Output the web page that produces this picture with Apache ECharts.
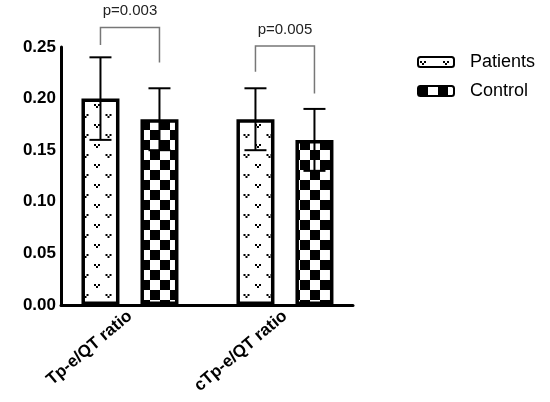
<!DOCTYPE html>
<html>
<head>
<meta charset="utf-8">
<script src="https://cdn.jsdelivr.net/npm/echarts@6/dist/echarts.min.js"></script>
<style>
html, body { margin: 0; padding: 0; background: #fff; }
#main { width: 550px; height: 402px; }
</style>
</head>
<body>
<div id="main"></div>
<script>
// data
var categories = ['Tp-e/QT ratio', 'cTp-e/QT ratio']
var groupPos = [0, 1]
var patientsMean = [0.20, 0.18]
var patientsSD = [0.04, 0.03]
var controlMean = [0.18, 0.16]
var controlSD = [0.03, 0.03]
var pLabels = ['p=0.003', 'p=0.005']
var bracketTop = [0.269, 0.251]
var bracketLeftEnd = [0.252, 0.226]
var bracketRightEnd = [0.235, 0.205]

var FONT = 'Arial, "Liberation Sans", Helvetica, sans-serif'
var barW = 38
var barGapPx = 21
var half = (barW + barGapPx) / 2

// fill patterns
function dotsPattern() {
    var c = document.createElement('canvas')
    c.width = 23
    c.height = 20
    var ctx = c.getContext('2d')
    ctx.fillStyle = '#fff'
    ctx.fillRect(0, 0, 23, 20)
    ctx.fillStyle = '#000'
    function vmark(x, y) {
        ctx.fillRect(x, y, 2, 2)
        ctx.fillRect(x + 4, y, 2, 2)
        ctx.fillRect(x + 2, y + 2, 2, 2)
    }
    vmark(2, 4)
    vmark(13.5, 14)
    return c
}
function checkerPattern() {
    var c = document.createElement('canvas')
    c.width = 20
    c.height = 20
    var ctx = c.getContext('2d')
    ctx.fillStyle = '#fff'
    ctx.fillRect(0, 0, 20, 20)
    ctx.fillStyle = '#000'
    ctx.fillRect(0, 0, 10, 10)
    ctx.fillRect(10, 10, 10, 10)
    return c
}

function pairs(xs, ys) {
    return xs.map(function (x, i) { return [x, ys[i]] })
}
function errData(xs, m, sd) {
    return xs.map(function (x, i) { return [x, m[i], sd[i]] })
}

function errorBar(side) {
    return function (params, api) {
        var x = api.value(0)
        var m = api.value(1)
        var s = api.value(2)
        var hi = api.coord([x, m + s])
        var lo = api.coord([x, m - s])
        var cx = hi[0] + side * half
        var cap = 11
        var st = { stroke: '#000', lineWidth: 2 }
        return {
            type: 'group',
            children: [
                { type: 'line', shape: { x1: cx, y1: hi[1], x2: cx, y2: lo[1] }, style: st },
                { type: 'line', shape: { x1: cx - cap, y1: hi[1], x2: cx + cap, y2: hi[1] }, style: st },
                { type: 'line', shape: { x1: cx - cap, y1: lo[1], x2: cx + cap, y2: lo[1] }, style: st }
            ]
        }
    }
}

var bracketData = groupPos.map(function (x, i) {
    return [x, bracketTop[i], bracketLeftEnd[i], bracketRightEnd[i], i]
})

var chart = echarts.init(document.getElementById('main'))
chart.setOption({
    animation: false,
    backgroundColor: '#fff',
    textStyle: { fontFamily: FONT },
    grid: { left: 61, right: 197, top: 47, bottom: 97 },
    legend: {
        orient: 'vertical',
        left: 417,
        top: 53,
        padding: 0,
        itemWidth: 36,
        itemHeight: 10,
        itemGap: 11,
        data: ['Patients', 'Control'],
        textStyle: { fontSize: 18, color: '#000', fontFamily: FONT, padding: [0, 0, 0, 11] }
    },
    xAxis: {
        type: 'value',
        min: -0.445,
        max: 1.439,
        splitLine: { show: false },
        axisTick: { show: false },
        axisLine: { show: true, onZero: false, lineStyle: { color: '#000', width: 3 } },
        axisLabel: {
            customValues: groupPos,
            rotate: 40,
            margin: 9,
            fontSize: 17,
            fontWeight: 'bold',
            color: '#000',
            fontFamily: FONT,
            formatter: function (v) {
                var i = groupPos.indexOf(v)
                return i >= 0 ? categories[i] : ''
            }
        }
    },
    yAxis: {
        type: 'value',
        min: 0,
        max: 0.25,
        interval: 0.05,
        splitLine: { show: false },
        axisTick: { show: false },
        axisLine: { show: true, onZero: false, lineStyle: { color: '#000', width: 3 } },
        axisLabel: {
            margin: 5,
            fontSize: 17,
            fontWeight: 'bold',
            color: '#000',
            fontFamily: FONT,
            formatter: function (v) { return v.toFixed(2) }
        }
    },
    series: [{
        name: 'Patients',
        type: 'bar',
        barWidth: barW,
        barGap: (barGapPx / barW * 100) + '%',
        data: pairs(groupPos, patientsMean),
        itemStyle: {
            color: { image: dotsPattern(), repeat: 'repeat' },
            borderColor: '#000',
            borderWidth: 3.5
        }
    }, {
        name: 'Control',
        type: 'bar',
        barWidth: barW,
        data: pairs(groupPos, controlMean),
        itemStyle: {
            color: { image: checkerPattern(), repeat: 'repeat' },
            borderColor: '#000',
            borderWidth: 3.5
        }
    }, {
        type: 'custom',
        renderItem: errorBar(-1),
        data: errData(groupPos, patientsMean, patientsSD),
        encode: { x: 0, y: 1 },
        z: 5,
        silent: true
    }, {
        type: 'custom',
        renderItem: errorBar(1),
        data: errData(groupPos, controlMean, controlSD),
        encode: { x: 0, y: 1 },
        z: 5,
        silent: true
    }, {
        // significance brackets
        type: 'custom',
        clip: false,
        silent: true,
        data: bracketData,
        encode: { x: 0, y: 1 },
        renderItem: function (params, api) {
            var x = api.value(0)
            var top = api.coord([x, api.value(1)])
            var l = api.coord([x, api.value(2)])
            var r = api.coord([x, api.value(3)])
            var xl = top[0] - half
            var xr = top[0] + half
            return {
                type: 'group',
                children: [{
                    type: 'polyline',
                    shape: { points: [[xl, l[1]], [xl, top[1]], [xr, top[1]], [xr, r[1]]] },
                    style: { stroke: '#777', lineWidth: 1.5, fill: null }
                }, {
                    type: 'text',
                    x: top[0],
                    y: top[1] - 9,
                    style: {
                        text: pLabels[api.value(4)],
                        fill: '#222',
                        font: '15px ' + FONT,
                        align: 'center',
                        verticalAlign: 'bottom'
                    }
                }]
            }
        }
    }]
})
</script>
</body>
</html>
